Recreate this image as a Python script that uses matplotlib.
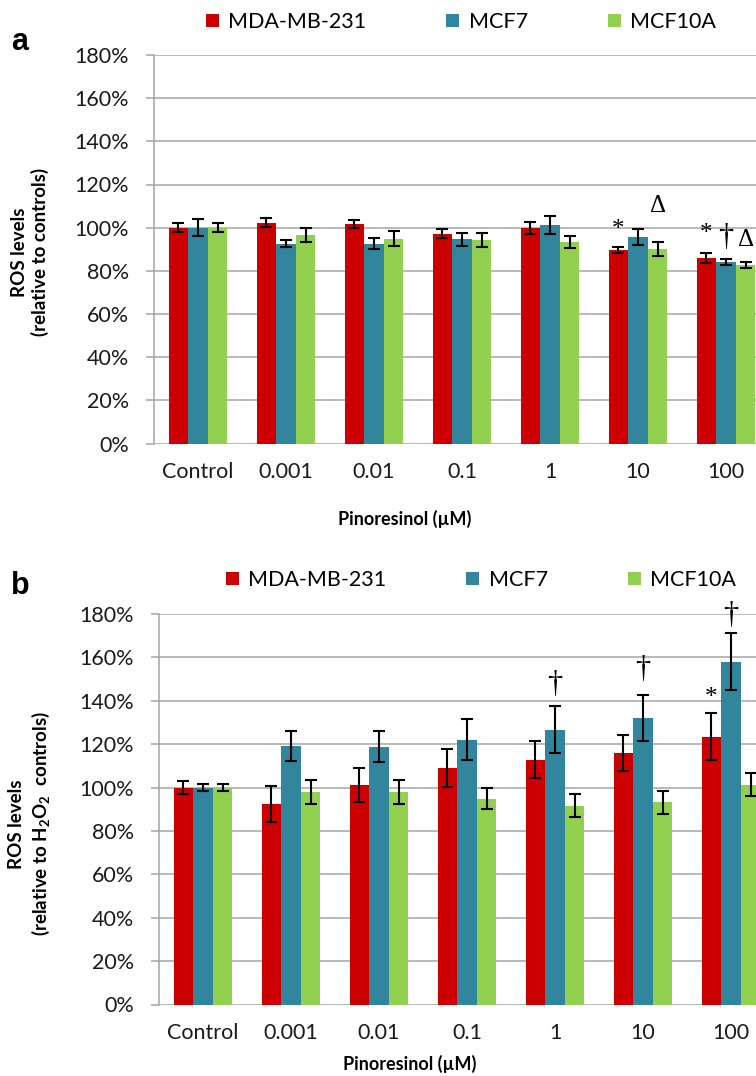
import matplotlib
matplotlib.use("Agg")
import matplotlib.pyplot as plt
import numpy as np
from matplotlib.patches import Patch
from matplotlib.ticker import FuncFormatter

# doses and series names
doses = ["Control", "0.001", "0.01", "0.1", "1", "10", "100"]
series_names = ["MDA-MB-231", "MCF7", "MCF10A"]

# panel a: ROS relative to controls (%)
mda_a = [100, 102.3, 101.7, 97.2, 99.7, 89.6, 85.8]
mda_a_err = [2.2, 2.1, 2.0, 2.0, 2.8, 1.4, 2.4]
mcf7_a = [100, 92.6, 92.5, 94.6, 101.2, 95.6, 84.1]
mcf7_a_err = [4.0, 1.5, 2.5, 2.9, 4.3, 3.6, 1.6]
mcf10a_a = [100, 96.5, 94.9, 94.3, 93.3, 90.2, 82.6]
mcf10a_a_err = [2.1, 3.3, 3.5, 3.4, 2.7, 3.3, 1.4]

# panel b: ROS relative to H2O2 controls (%)
mda_b = [100, 92.4, 101.2, 109.2, 112.9, 116.0, 123.5]
mda_b_err = [2.9, 8.1, 7.9, 8.8, 8.4, 8.3, 10.9]
mcf7_b = [100, 119.1, 118.8, 122.0, 126.6, 132.0, 158.1]
mcf7_b_err = [1.7, 7.0, 7.2, 9.4, 10.8, 10.7, 13.3]
mcf10a_b = [100, 97.9, 97.9, 94.8, 91.6, 93.3, 101.4]
mcf10a_b_err = [1.5, 5.7, 5.4, 4.9, 5.3, 5.3, 5.5]

# significance marks: (dose index, series index, symbol)
marks_a = [(5, 0, "*"), (5, 2, "\u0394"), (6, 0, "*"), (6, 1, "\u2020"), (6, 2, "\u0394")]
marks_b = [(4, 1, "\u2020"), (5, 1, "\u2020"), (6, 0, "*"), (6, 1, "\u2020")]
# vertical offset (points) of each mark centre above its error bar
mark_offsets_a = [12, 26, 14, 15, 16]
mark_offsets_b = [16, 18, 11, 12]

colors = ["#CC0000", "#31859C", "#92D050"]
grid_grey = "#A6A6A6"

plt.rcParams["font.family"] = ["Lato", "DejaVu Sans"]
plt.rcParams["mathtext.fontset"] = "custom"
plt.rcParams["mathtext.rm"] = "Lato"
plt.rcParams["mathtext.bf"] = "Lato:bold"

W, H = 756, 1076
fig = plt.figure(figsize=(W / 100, H / 100), dpi=100)


def px_axes(left, top, right, bottom):
    return fig.add_axes([left / W, 1 - bottom / H, (right - left) / W, (bottom - top) / H])


def draw_panel(ax, vals, errs, marks, offsets):
    x = np.arange(len(doses))
    width = 0.223
    for i, (v, e) in enumerate(zip(vals, errs)):
        ax.bar(x + (i - 1) * width, v, width, color=colors[i], yerr=e, zorder=3,
               error_kw=dict(ecolor="black", elinewidth=1.5, capsize=4.5, capthick=1.5, zorder=4))
    for (g, s, sym), off in zip(marks, offsets):
        top = vals[s][g] + errs[s][g]
        size = 22 if sym == "\u2020" else 18
        ax.annotate(sym, (x[g] + (s - 1) * width, top), xytext=(0, off),
                    textcoords="offset points", ha="center", va="center",
                    fontsize=size, family=["Liberation Serif", "DejaVu Serif"], zorder=5)
    ax.set_xlim(-0.5, len(doses) - 0.5)
    ax.set_ylim(0, 180)
    ax.set_yticks(np.arange(0, 181, 20))
    ax.yaxis.set_major_formatter(FuncFormatter(lambda v, p: f"{v:.0f}%"))
    ax.set_xticks(x)
    ax.set_xticklabels(doses)
    ax.grid(axis="y", color=grid_grey, linewidth=1.1, zorder=0)
    ax.set_axisbelow(True)
    for side in ["top", "right", "bottom"]:
        ax.spines[side].set_visible(False)
    ax.spines["left"].set_color(grid_grey)
    ax.spines["left"].set_linewidth(1.1)
    ax.tick_params(axis="y", length=6, width=1.1, color=grid_grey, pad=12, labelsize=15.5,
                   labelcolor="#1a1a1a")
    ax.tick_params(axis="x", length=0, pad=13, labelsize=15.5, labelcolor="#1a1a1a")


ax_a = px_axes(154, 55, 770, 443.5)
draw_panel(ax_a, [mda_a, mcf7_a, mcf10a_a], [mda_a_err, mcf7_a_err, mcf10a_a_err],
           marks_a, mark_offsets_a)
ax_b = px_axes(159, 614, 775, 1004.5)
draw_panel(ax_b, [mda_b, mcf7_b, mcf10a_b], [mda_b_err, mcf7_b_err, mcf10a_b_err],
           marks_b, mark_offsets_b)

handles = [Patch(facecolor=c, edgecolor="none") for c in colors]
leg_kw = dict(ncol=3, frameon=False, fontsize=15.5, handlelength=0.6, handleheight=0.6,
              handletextpad=0.45, columnspacing=3.7, loc="center", borderaxespad=0)
fig.legend(handles, series_names, bbox_to_anchor=(461 / W, 1 - 22 / H), **leg_kw)
fig.legend(handles, series_names, bbox_to_anchor=(481 / W, 1 - 580 / H), **leg_kw)

# panel letters
fig.text(20 / W, 1 - 42 / H, "a", fontsize=22, fontweight="bold", family=["Liberation Sans"],
         ha="center", va="center")
fig.text(20 / W, 1 - 586 / H, "b", fontsize=22, fontweight="bold", family=["Liberation Sans"],
         ha="center", va="center")

# y labels
fig.text(30 / W, 1 - 252 / H, "ROS levels\n(relative to controls)", rotation=90,
         fontsize=13.5, fontweight="bold", ha="center", va="center", linespacing=1.25)
fig.text(30 / W, 1 - 824 / H, "ROS levels\n(relative to H$_{\\mathbf{2}}$O$_{\\mathbf{2}}$  controls)",
         rotation=90, fontsize=13.5, fontweight="bold", ha="center", va="center", linespacing=1.25)

# x labels
fig.text(405 / W, 1 - 519 / H, "Pinoresinol (\u00b5M)", fontsize=13, fontweight="bold",
         ha="center", va="center")
fig.text(410 / W, 1 - 1064 / H, "Pinoresinol (\u00b5M)", fontsize=13, fontweight="bold",
         ha="center", va="center")

fig.savefig("out.png", dpi=100, facecolor="white")
